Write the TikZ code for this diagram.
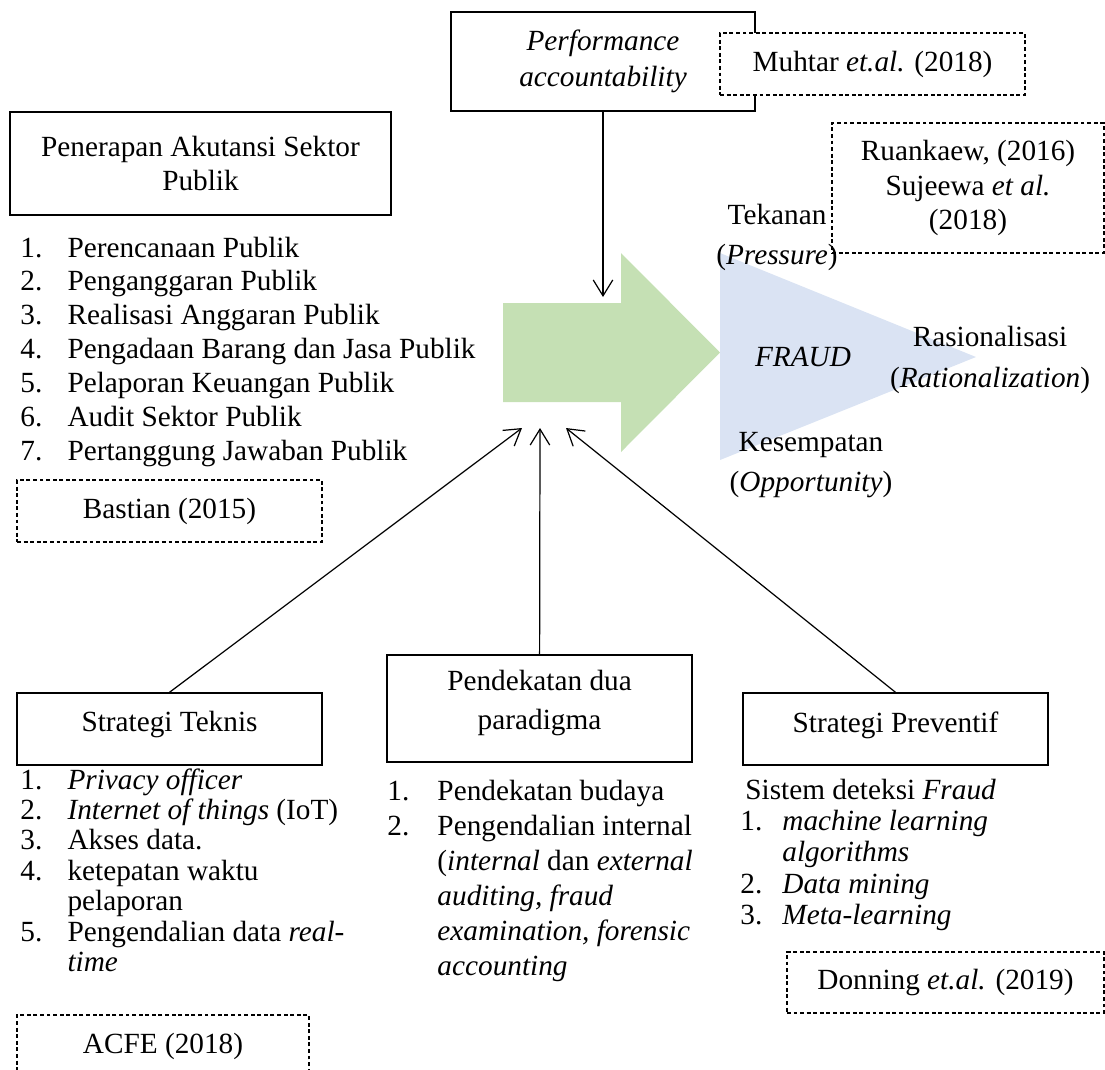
\documentclass[tikz,border=0pt]{standalone}
\usepackage{fontspec}
\setmainfont{Liberation Serif}
\usetikzlibrary{arrows.meta,positioning}
\definecolor{arrowgreen}{HTML}{C5E0B4}
\definecolor{fraudblue}{HTML}{DAE3F3}
\tikzset{
  box/.style={draw, line width=0.6pt, inner sep=0pt, align=center},
  refbox/.style={draw, dash pattern=on 1.6pt off 1.1pt, line width=0.5pt, fill=white, inner sep=0pt, align=center},
  lst/.style={anchor=base west, inner sep=0pt},
  lbl/.style={inner sep=0pt, align=center},
  up/.style={draw, line width=0.5pt, -{Straight Barb[length=6.5pt,width=8pt]}},
}

\begin{document}
\begin{tikzpicture}[x=0.41pt, y=-0.41pt, every node/.style={font=\fontsize{12}{14}\selectfont}]
        \useasboundingbox (0,0) rectangle (1105,1069);
        %shapes
        \fill[arrowgreen] (503,303) -- (621,303) -- (621,253) -- (720,352.5) -- (621,452) -- (621,402) -- (503,402) -- cycle;
        \fill[fraudblue] (720,253) -- (976,357) -- (720,460) -- cycle;
        %nodes
        \node[box, minimum width=156.2pt, minimum height=42.2pt] (pub) at (200.5,163.5) {Penerapan Akutansi Sektor\\Publik};
        \node[box, minimum width=124.6pt, minimum height=40.6pt, font=\fontsize{12}{14.8}\selectfont\itshape] (perf) at (603,61.5) {Performance\\accountability};
        \node[refbox, minimum width=125pt, minimum height=25.4pt] (muhtar) at (872.5,64) {Muhtar \textit{et.al.} (2018)};
        \node[refbox, fill=none, minimum width=111.5pt, minimum height=53.3pt] (ruan) at (968,188) {Ruankaew, (2016)\\Sujeewa \textit{et al.}\\(2018)};
        \node[lbl] (tekanan) at (777,237.5) {Tekanan\\[2.5pt](\textit{Pressure})};
        \node[lbl, font=\fontsize{12}{14}\selectfont\itshape] (fraud) at (803,357) {FRAUD};
        \node[lbl] (rasio) at (990,360) {Rasionalisasi\\[2.5pt](\textit{Rationalization})};
        \node[lbl] (kesempatan) at (811,465) {Kesempatan\\[2.5pt](\textit{Opportunity})};
        \node[lst, font=\fontsize{12}{13.9}\selectfont] (publist) at (20,257) {\begin{tabular}[t]{@{}p{19.3pt}@{}l@{}}
          1. & Perencanaan Publik\\
          2. & Penganggaran Publik\\
          3. & Realisasi Anggaran Publik\\
          4. & Pengadaan Barang dan Jasa Publik\\
          5. & Pelaporan Keuangan Publik\\
          6. & Audit Sektor Publik\\
          7. & Pertanggung Jawaban Publik
        \end{tabular}};
        \node[refbox, minimum width=125pt, minimum height=25.4pt] (bastian) at (169.5,511) {Bastian (2015)};
        \node[box, minimum width=125pt, minimum height=29.5pt, text depth=6pt] (teknis) at (169.5,729) {Strategi Teknis};
        \node[box, minimum width=125pt, minimum height=43.9pt, text depth=7pt] (dua) at (539.5,708.5) {Pendekatan dua\\[2pt]paradigma};
        \node[box, minimum width=125pt, minimum height=29.5pt, text depth=6pt] (prev) at (895.5,729) {Strategi Preventif};
        \node[lst, font=\fontsize{12}{12.5}\selectfont] (teklist) at (20,789) {\begin{tabular}[t]{@{}p{19.3pt}@{}l@{}}
          1. & \textit{Privacy officer}\\
          2. & \textit{Internet of things} (IoT)\\
          3. & Akses data.\\
          4. & ketepatan waktu\\
             & pelaporan\\
          5. & Pengendalian data \textit{real-}\\
             & \textit{time}
        \end{tabular}};
        \node[lst, font=\fontsize{12}{14.4}\selectfont] (dualist) at (387,800) {\begin{tabular}[t]{@{}p{20.5pt}@{}l@{}}
          1. & Pendekatan budaya\\
          2. & Pengendalian internal\\
             & (\textit{internal} dan \textit{external}\\
             & \textit{auditing, fraud}\\
             & \textit{examination, forensic}\\
             & \textit{accounting}
        \end{tabular}};
        \node[lst, font=\fontsize{12}{12.9}\selectfont] (prevlist) at (740,799) {\begin{tabular}[t]{@{}p{17.2pt}@{}l@{}}
          \multicolumn{2}{@{\hspace{2pt}}l@{}}{Sistem deteksi \textit{Fraud}}\\
          1. & \textit{machine learning}\\
             & \textit{algorithms}\\
          2. & \textit{Data mining}\\
          3. & \textit{Meta-learning}
        \end{tabular}};
        \node[refbox, minimum width=119.7pt, minimum height=25.4pt] (acfe) at (163,1046) {ACFE (2018)};
        \node[refbox, minimum width=130pt, minimum height=25pt] (donning) at (945.5,982.5) {Donning \textit{et.al.} (2019)};
        \coordinate (downtip) at (603,297);
        \coordinate (tipa) at (522,428);
        \coordinate (tipb) at (540,428);
        \coordinate (tipc) at (566,428);
        %edges
        \path [up] (perf) -- (downtip);
        \path [up] (teknis.north) -- (tipa);
        \path [up] (dua) -- (tipb);
        \path [up] (prev.north) -- (tipc);
      \end{tikzpicture}
\end{document}
